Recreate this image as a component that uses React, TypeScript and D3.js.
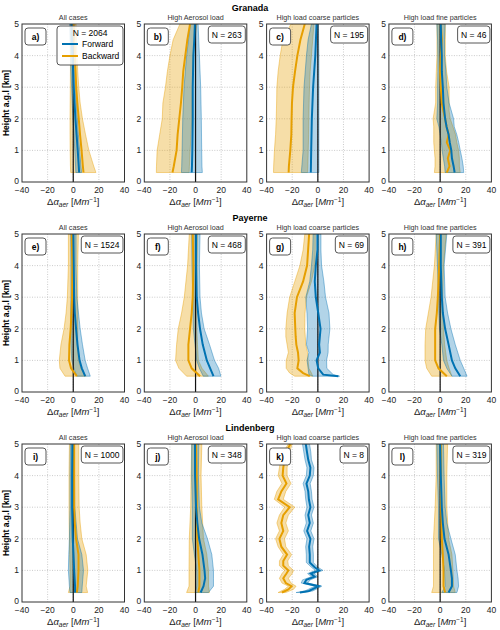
import React from 'react';
import * as d3 from 'd3';

const stations = ['Granada', 'Payerne', 'Lindenberg'];
const cases = ['All cases', 'High Aerosol load', 'High load coarse particles', 'High load fine particles'];
const tags = ['a)', 'b)', 'c)', 'd)', 'e)', 'f)', 'g)', 'h)', 'i)', 'j)', 'k)', 'l)'];
const counts = [2064, 263, 195, 46, 1524, 468, 69, 391, 1000, 348, 8, 319];
const xTicks = [-40, -20, 0, 20, 40];
const yTicks = [0, 1, 2, 3, 4, 5];
const xGrid = [-20, 0, 20];
const yGrid = [1, 2, 3, 4];

// rows: [height km, lower, mean, upper]
const aFwd = [[0.3, 2, 4.6, 6.5], [0.5, 1.8, 4.3, 6], [1, 1.2, 3.5, 5], [1.5, 0.5, 2.6, 4], [2, -0.2, 1.7, 3.2], [2.5, -0.8, 1, 2.5], [3, -1.3, 0.4, 1.8], [3.5, -1.8, -0.1, 1.4], [4, -2.2, -0.7, 1], [4.5, -2.5, -1.1, 0.6], [5, -2.8, -1.4, 0.3]];
const aBwd = [[0.3, -2, 8, 17.7], [0.5, -2.2, 7.5, 16], [1, -2.4, 6.5, 12.2], [1.5, -2.5, 5.3, 9.6], [2, -2.5, 4.3, 7.2], [2.5, -2.4, 3.2, 5.4], [3, -2.3, 2.3, 4.3], [3.5, -2.2, 1.8, 3.5], [4, -2.2, 1.3, 3], [4.5, -2.2, 0.8, 2.5], [5, -2.2, 0.3, 2.2]];
const bFwd = [[0.3, -11, -3, 5.3], [0.5, -10.8, -2.8, 5], [1, -10.5, -2.5, 4.8], [2, -10, -2.2, 4.5], [3, -9, -2.2, 4], [4, -7, -1.7, 3], [4.5, -5.5, -1, 2.5], [5, -4, -0.5, 2]];
const bBwd = [[0.3, -30.6, -18, -5], [0.5, -30.5, -17, -4.8], [1, -30, -14.8, -4.2], [1.5, -28, -14, -3.5], [2, -26, -12.7, -3], [2.5, -25.5, -11.4, -2.8], [3, -23.5, -10.4, -2.5], [3.5, -22, -9.6, -2.2], [4, -20, -8, -2], [4.5, -17.5, -6.4, -0.5], [5, -12.2, -4.3, 1]];
const cFwd = [[0.3, -12.9, -5.5, 0.8], [0.5, -12.5, -5.4, 0.8], [1, -11.5, -5.2, 0.8], [2, -11.5, -4.7, 0.8], [3, -10.8, -3.7, 0.8], [4, -8.9, -2, 0.8], [4.5, -7.6, -1.5, 0.6], [5, -5, -1, 0.5]];
const cBwd = [[0.3, -34.6, -22.8, -8], [0.5, -34.5, -22.6, -7.8], [1, -33.9, -21.5, -7.5], [1.5, -33, -20.7, -7.2], [2, -32.5, -20.5, -7], [2.5, -32.2, -20.2, -6.8], [3, -32, -19.4, -6.5], [3.5, -31, -17.8, -6], [4, -29.4, -16, -5], [4.5, -27.3, -13.6, -4], [5, -21, -10.2, -3]];
const dFwd = [[0.3, 3.9, 11.3, 18.4], [0.5, 3.5, 10.5, 18], [0.75, 2.5, 9.2, 17], [1, 1.5, 8.7, 15.7], [1.25, 1, 7.5, 14.5], [1.5, 0, 6.6, 13], [1.75, -1, 5, 11], [2, -2.6, 3.9, 10.5], [2.5, -2, 2.6, 7], [3, -2, 2.1, 5.2], [3.5, -1.8, 1.3, 4.5], [4, -1.8, 1.3, 3.4], [4.5, -2, 0.8, 3.4], [5, -2.6, 0.5, 3.9]];
const dBwd = [[0.3, -4.5, 5.2, 15.7], [0.5, -4, 7.3, 15], [0.75, -4, 6, 15], [1, -4.5, 7.9, 14.4], [1.25, -5, 5.2, 13], [1.5, -5, 6.6, 12], [1.75, -5, 5, 10], [2, -5.5, 3.9, 7.9], [2.25, -4.5, 2.5, 7], [2.5, -3.5, 1.3, 7], [3, -3.5, 0.5, 7], [3.5, -3, 0, 5], [4, -2.5, 0.5, 4], [4.5, -2.5, 1.3, 4], [5, -2.5, 0.5, 4]];
const eFwd = [[0.5, 2.8, 9.3, 13.3], [0.75, 0.5, 6.7, 11.2], [1, -1.2, 4.9, 9.3], [1.5, -1.8, 3.3, 7.2], [2, -2, 2.2, 5.4], [2.5, -2, 1.2, 4.1], [3, -1.8, 0.7, 2.8], [4, -1.8, 0.4, 2.2], [5, -2, 0.1, 2.2]];
const eBwd = [[0.5, -6.4, 2.8, 10], [0.75, -10.4, -1.7, 6], [1, -10.9, -3.3, 4], [1.5, -9.6, -3, 3.5], [2, -7.2, -2, 3.5], [2.5, -5.6, -1.4, 3.5], [3, -4.6, -0.9, 3.5], [4, -3.8, -0.7, 3.5], [5, -3.8, -1.2, 4]];
const fFwd = [[0.5, 6, 14, 19.8], [0.75, 3, 11.4, 18], [1, 0.9, 8.8, 14.8], [1.5, -0.4, 5.6, 10.9], [2, -1.7, 3.5, 6.7], [2.5, -2, 2, 4.6], [3, -2.2, 0.9, 3.5], [4, -2.8, 0.4, 3], [5, -3, 0.4, 3.5]];
const fBwd = [[0.5, -7, 3.5, 10], [0.75, -13, -3, 5], [1, -15.6, -5.6, 2.2], [1.5, -14.8, -5.6, 1.5], [2, -13.5, -4.3, 1], [2.5, -10.9, -3, 1], [3, -8.8, -2.2, 1], [4, -6.2, -1.7, 1.2], [5, -4.9, -2.2, 1.5]];
const gFwd = [[0.5, -4, 16, 17], [0.55, -7, 4.2, 12], [0.75, -7.6, 0.3, 7], [1, -8.4, -1, 6.8], [1.25, -7, 1.6, 8], [1.5, -8.9, 1, 8.1], [2, -8, 2.1, 9.4], [2.5, -8.5, 0.3, 8.7], [3, -9.4, -1.6, 6], [3.5, -6.3, -2.4, 4.7], [4, -5, -1.6, 2.9], [4.5, -4, -0.3, 2.4], [5, -3.7, -0.3, 2.4]];
const gBwd = [[0.5, -18, -6.3, -4], [0.6, -22, -11.5, -5], [0.75, -24.7, -16, -7], [1, -24.7, -15, -7.6], [1.25, -23, -15.5, -8], [1.5, -24, -16.8, -9.4], [1.75, -25, -17.3, -9.8], [2, -25, -17.6, -10.2], [2.5, -24, -18.1, -10], [3, -22, -16.3, -8.9], [3.5, -18, -11.5, -5], [4, -14, -8.4, -2.4], [4.5, -11.5, -7.6, -2], [5, -10.2, -6.8, -2]];
const hFwd = [[0.5, 9.2, 15.7, 21], [0.75, 5.2, 11.8, 18.4], [1, 2.6, 9.2, 15.7], [1.5, 1.3, 6.6, 11.8], [2, -0.5, 3.9, 8.4], [2.5, -1, 2.1, 5.8], [3, -1.3, 1.3, 3.9], [4, -2.1, 0.5, 3.1], [5, -3.1, 0.5, 5.2]];
const hBwd = [[0.5, -6.6, 5.2, 9.2], [0.75, -10.5, -1.3, 7], [1, -11.8, -3.9, 5.2], [1.5, -11.8, -3.9, 3.5], [2, -11.3, -3.9, 2.6], [2.5, -9.2, -2.6, 2.3], [3, -7.1, -1.8, 2.1], [4, -4.5, -0.8, 2.6], [5, -3.1, 0, 4.7]];
const iFwd = [[0.3, -2.5, 1.4, 6.7], [0.5, -3, 1.4, 7], [1, -3.8, 0.7, 8], [1.5, -3.5, 0.2, 6.7], [2, -3, -0.4, 3.3], [3, -2.5, -0.9, 1.2], [4, -2.5, -0.9, 1], [5, -2.3, -0.7, 1]];
const iBwd = [[0.3, -3.8, 2.8, 11.2], [0.5, -2.5, 3.5, 10.1], [1, -2.5, 4.1, 11.4], [1.5, -2.8, 4.1, 10.1], [2, -3, 2.2, 6.7], [2.5, -3.2, 1.2, 5.4], [3, -3.3, 0.7, 4.6], [4, -3.3, 0.7, 4.3], [5, -3, 0.7, 4.3]];
const jFwd = [[0.3, -0.4, 4, 10.1], [0.5, 0.9, 6.2, 14], [0.75, 1, 7.5, 14], [1, 0.9, 7, 14], [1.5, -0.9, 5.4, 12.7], [2, -2.5, 2.8, 9.3], [2.5, -2.5, 1.4, 4.9], [3, -2.5, 0.4, 3], [4, -3, -0.4, 2.2], [5, -3, -0.4, 2.5]];
const jBwd = [[0.3, -7, 2.2, 10.9], [0.5, -5.1, 3, 10.1], [1, -5.1, 3, 10.1], [1.5, -5, 2.2, 8.8], [2, -4.9, 1.4, 6.2], [3, -3.8, 0.9, 4.9], [4, -3.5, 0.9, 4.3], [5, -3, 0.4, 4.9]];
const kFwd = [[0.3, -17, -14, -11], [0.35, -10, -7, -4], [0.45, -5, -2, 1], [0.5, -2, 0.5, 3], [0.6, -13, -10.5, -8], [0.7, -12, -9, -6], [0.8, -5, -2.5, 0], [0.9, -8, -5.5, -3], [1, -2, 1, 4], [1.1, -5, -2.5, 0], [1.25, -9, -6.3, -3.5], [1.5, -9, -6.3, -3.5], [1.75, -9.5, -6.8, -4], [2, -8.5, -5.8, -3], [2.25, -11, -8.4, -5.5], [2.5, -9, -6.3, -3.5], [2.75, -10, -7.5, -5], [3, -8.5, -5.8, -3], [3.25, -9.5, -7, -4.5], [3.5, -10, -7.5, -5], [3.75, -11.5, -8.9, -6], [4, -9, -6.3, -3.5], [4.25, -8.5, -5.8, -3], [4.5, -10, -7.5, -5], [4.75, -11, -8.5, -5.5], [5, -12, -9.4, -6.5]];
const kBwd = [[0.3, -31, -28, -25], [0.4, -26, -23, -19], [0.5, -23, -20.5, -17], [0.6, -28, -25, -21], [0.75, -30, -27, -23], [0.9, -28, -24.5, -20], [1, -26, -23, -19], [1.15, -30, -27, -23], [1.3, -30, -27, -23.5], [1.5, -27, -24, -20.5], [1.75, -31, -28.5, -25], [2, -33, -30, -26], [2.25, -30, -27, -23], [2.5, -32, -28.5, -25], [2.75, -30, -27, -23], [3, -26, -22, -18], [3.25, -34, -31, -27], [3.5, -32, -28.5, -25], [3.75, -28, -24.5, -21], [4, -31, -27.5, -24], [4.25, -30, -27, -24], [4.5, -29, -26, -23], [4.75, -27, -24.5, -22], [5, -23, -21.5, -20]];
const lFwd = [[0.3, 1.3, 6.6, 13.1], [0.5, 3.9, 9.2, 14.4], [0.75, 3.6, 9.2, 14], [1, 3.4, 8.4, 13.1], [1.5, 1.3, 6.6, 11.8], [2, -1.3, 3.4, 8.4], [2.5, -1.3, 2.1, 5.2], [3, -1.3, 1.3, 3.9], [4, -2.1, 0.5, 3.1], [5, -2.6, 0, 2.6]];
const lBwd = [[0.3, -6.6, 3.9, 11.8], [0.5, -5.2, 2.6, 10.5], [1, -5.2, 2.6, 10], [1.5, -5.2, 2.1, 9.2], [2, -5.2, 1.3, 6.6], [3, -3.9, 0.8, 5.2], [4, -3.1, 0.5, 5.2], [5, -3.1, 0.5, 5.8]];

const forward = [aFwd, bFwd, cFwd, dFwd, eFwd, fFwd, gFwd, hFwd, iFwd, jFwd, kFwd, lFwd];
const backward = [aBwd, bBwd, cBwd, dBwd, eBwd, fBwd, gBwd, hBwd, iBwd, jBwd, kBwd, lBwd];

const BLUE = '#0072B2';
const ORANGE = '#E69F00';
const FONT = '"Liberation Sans", Arial, sans-serif';
const PW = 102.5;
const PH = 158;
const colLeft = (c) => 22 + c * 122.3;
const rowTop = (r) => 24 + r * 210;

// rough Arial advance widths, for sizing the N boxes
const textWidth = (s, size) => {
  let w = 0;
  for (const ch of s) {
    if (ch === 'N') w += 0.722;
    else if (ch === ' ') w += 0.278;
    else if (ch === '=') w += 0.584;
    else w += 0.556;
  }
  return w * size;
};

const fmt = (v) => (v < 0 ? '\u2212' + Math.abs(v) : String(v));

const Panel = ({ i }) => {
  const r = Math.floor(i / 4);
  const c = i % 4;
  const x0 = colLeft(c);
  const y0 = rowTop(r);
  const x = d3.scaleLinear().domain([-40, 40]).range([x0, x0 + PW]);
  const y = d3.scaleLinear().domain([0, 5]).range([y0 + PH, y0]);
  const area = d3
    .area()
    .y((d) => y(d[0]))
    .x0((d) => x(d[1]))
    .x1((d) => x(d[3]));
  const line = d3
    .line()
    .x((d) => x(d[2]))
    .y((d) => y(d[0]));
  const clipId = 'clip' + i;
  const nLabel = 'N = ' + counts[i];
  const nW = textWidth(nLabel, 8.5) + 7;
  const cx = x0 + PW / 2;

  return (
    <g>
      <defs>
        <clipPath id={clipId}>
          <rect x={x0} y={y0} width={PW} height={PH} />
        </clipPath>
      </defs>
      {c === 0 && (
        <text x={250} y={y0 - 13} textAnchor="middle" fontSize={9} fontWeight="bold">
          {stations[r]}
        </text>
      )}
      <text x={cx} y={y0 - 4} textAnchor="middle" fontSize={7.2} fill="#333">
        {cases[c]}
      </text>

      {xGrid.map((t) => (
        <line key={'gx' + t} x1={x(t)} x2={x(t)} y1={y0} y2={y0 + PH} stroke="#b5b5b5" strokeWidth={0.7} strokeDasharray="1,1.5" />
      ))}
      {yGrid.map((t) => (
        <line key={'gy' + t} x1={x0} x2={x0 + PW} y1={y(t)} y2={y(t)} stroke="#b5b5b5" strokeWidth={0.7} strokeDasharray="1,1.5" />
      ))}

      <g clipPath={`url(#${clipId})`}>
        <path d={area(backward[i])} fill={ORANGE} fillOpacity={0.34} stroke={ORANGE} strokeOpacity={0.6} strokeWidth={0.7} />
        <path d={area(forward[i])} fill={BLUE} fillOpacity={0.3} stroke={BLUE} strokeOpacity={0.6} strokeWidth={0.7} />
        <line x1={x(0)} x2={x(0)} y1={y0} y2={y0 + PH} stroke="#111" strokeWidth={1.2} />
        <path d={line(backward[i])} fill="none" stroke={ORANGE} strokeWidth={2} />
        <path d={line(forward[i])} fill="none" stroke={BLUE} strokeWidth={2} />
      </g>

      <rect x={x0} y={y0} width={PW} height={PH} fill="none" stroke="#333" strokeWidth={1} />

      {yTicks.map((t) => (
        <text key={'ty' + t} x={x0 - 3} y={y(t) + (t === 0 ? 1.5 : 3)} textAnchor="end" fontSize={8.5} fill="#222">
          {t}
        </text>
      ))}
      {xTicks.map((t) => (
        <text key={'tx' + t} x={x(t)} y={y0 + PH + 10.5} textAnchor="middle" fontSize={8.5} fill="#222">
          {fmt(t)}
        </text>
      ))}
      <text x={cx} y={y0 + PH + 23} textAnchor="middle" fontSize={9.5} fill="#222">
        <tspan>Δ</tspan>
        <tspan fontStyle="italic">α</tspan>
        <tspan fontStyle="italic" fontSize={6.5} dy={2}>aer</tspan>
        <tspan dy={-2}> [</tspan>
        <tspan fontStyle="italic">Mm</tspan>
        <tspan fontSize={6.5} dy={-3.5}>−1</tspan>
        <tspan dy={3.5}>]</tspan>
      </text>
      {c === 0 && (
        <text transform={`translate(8.5,${y0 + PH / 2}) rotate(-90)`} textAnchor="middle" fontSize={8.5} fontWeight="bold">
          Height a.g.l [km]
        </text>
      )}

      <rect x={x0 + 3} y={y0 + 4} width={21} height={17} rx={3} fill="white" stroke="#444" strokeWidth={0.9} />
      <text x={x0 + 13.5} y={y0 + 15.5} textAnchor="middle" fontSize={8.5} fontWeight="bold">
        {tags[i]}
      </text>

      {i === 0 ? (
        <g>
          <rect x={x0 + 35} y={y0 + 2} width={PW - 36.5} height={39} rx={3} fill="white" fillOpacity={0.85} stroke="#444" strokeWidth={0.9} />
          <text x={x0 + 35 + (PW - 36.5) / 2} y={y0 + 12} textAnchor="middle" fontSize={8.5}>
            {nLabel}
          </text>
          <line x1={x0 + 40} x2={x0 + 56} y1={y0 + 20} y2={y0 + 20} stroke={BLUE} strokeWidth={2} />
          <text x={x0 + 60} y={y0 + 23} fontSize={8.5}>Forward</text>
          <line x1={x0 + 40} x2={x0 + 56} y1={y0 + 32} y2={y0 + 32} stroke={ORANGE} strokeWidth={2} />
          <text x={x0 + 60} y={y0 + 35} fontSize={8.5}>Backward</text>
        </g>
      ) : (
        <g>
          <rect x={x0 + PW - 1.5 - nW} y={y0 + 2} width={nW} height={17} rx={3} fill="white" stroke="#444" strokeWidth={0.9} />
          <text x={x0 + PW - 1.5 - nW / 2} y={y0 + 13.5} textAnchor="middle" fontSize={8.5}>
            {nLabel}
          </text>
        </g>
      )}
    </g>
  );
};

const App = () => {
  return (
    <svg
      width={500}
      height={630}
      style={{ position: 'absolute', left: 0, top: 0, background: 'white' }}
      fontFamily={FONT}
    >
      {counts.map((_, i) => (
        <Panel key={i} i={i} />
      ))}
    </svg>
  );
};

export default App;
